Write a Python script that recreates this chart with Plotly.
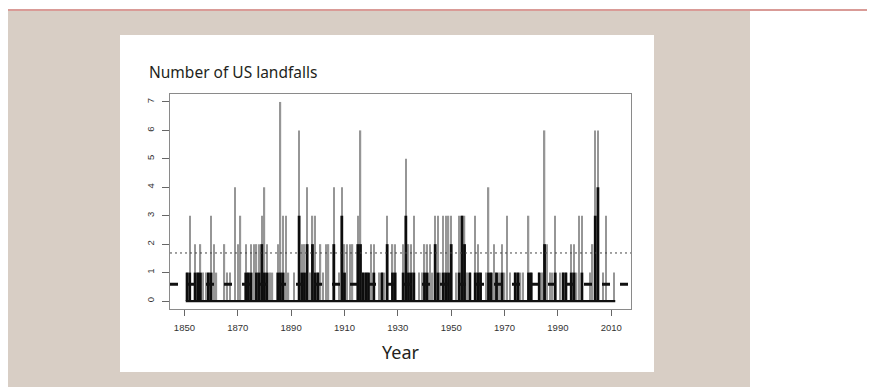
import plotly.graph_objects as go

# ---------------- data ----------------
years = list(range(1851, 2012))

all_hurricanes = [
    1, 3, 0, 2, 1, 2, 1, 1, 1, 3,      # 1851-1860
    2, 1, 0, 0, 2, 1, 1, 0, 4, 2,      # 1861-1870
    3, 0, 2, 1, 2, 2, 2, 2, 3, 4,      # 1871-1880
    2, 1, 1, 0, 2, 7, 3, 3, 1, 0,      # 1881-1890
    1, 0, 6, 2, 2, 4, 1, 3, 3, 1,      # 1891-1900
    2, 1, 2, 2, 0, 4, 0, 1, 4, 2,      # 1901-1910
    2, 2, 2, 0, 3, 6, 1, 1, 1, 2,      # 1911-1920
    2, 0, 1, 1, 1, 3, 0, 2, 2, 0,      # 1921-1930
    0, 2, 5, 2, 2, 3, 0, 1, 1, 2,      # 1931-1940
    2, 2, 1, 3, 3, 1, 3, 3, 3, 3,      # 1941-1950
    0, 1, 3, 3, 3, 1, 1, 0, 3, 2,      # 1951-1960
    1, 0, 1, 4, 1, 2, 1, 1, 2, 1,      # 1961-1970
    3, 1, 0, 1, 1, 1, 1, 0, 3, 1,      # 1971-1980
    0, 0, 1, 1, 6, 2, 1, 1, 3, 0,      # 1981-1990
    1, 1, 1, 0, 2, 2, 1, 3, 3, 0,      # 1991-2000
    0, 1, 2, 6, 6, 0, 1, 3, 0, 0, 1,   # 2001-2011
]

major_hurricanes = [
    1, 1, 0, 1, 1, 1, 0, 0, 1, 1,      # 1851-1860
    0, 0, 0, 0, 0, 0, 0, 0, 0, 0,      # 1861-1870
    0, 0, 1, 1, 1, 0, 1, 1, 2, 1,      # 1871-1880
    1, 0, 0, 0, 1, 1, 1, 0, 0, 0,      # 1881-1890
    0, 0, 3, 1, 1, 2, 0, 2, 1, 1,      # 1891-1900
    0, 0, 0, 0, 0, 2, 0, 0, 3, 1,      # 1901-1910
    0, 0, 0, 0, 2, 2, 1, 1, 1, 0,      # 1911-1920
    1, 0, 0, 1, 0, 2, 0, 1, 1, 0,      # 1921-1930
    0, 1, 3, 1, 1, 1, 0, 0, 0, 1,      # 1931-1940
    1, 0, 0, 2, 1, 0, 1, 1, 1, 2,      # 1941-1950
    0, 0, 1, 3, 2, 0, 1, 0, 1, 1,      # 1951-1960
    1, 0, 0, 1, 1, 0, 1, 0, 1, 0,      # 1961-1970
    0, 0, 0, 1, 1, 0, 0, 0, 1, 1,      # 1971-1980
    0, 0, 1, 0, 2, 0, 0, 0, 1, 0,      # 1981-1990
    0, 1, 1, 0, 1, 1, 0, 0, 1, 0,      # 1991-2000
    0, 0, 0, 3, 4, 0, 0, 0, 0, 0, 0,   # 2001-2011
]

mean_all = 1.69      # dotted reference line
mean_major = 0.59    # dashed reference line

x_ticks = [1850, 1870, 1890, 1910, 1930, 1950, 1970, 1990, 2010]
y_ticks = [0, 1, 2, 3, 4, 5, 6, 7]
x_range = [1844.6, 2017.4]
y_range = [-0.28, 7.28]

title_text = "Number of US landfalls"
x_label = "Year"

# ---------------- layout geometry (pixels) ----------------
W, H = 869, 387
L, R, T, B = 170, 631, 94, 309


def px(x):
    return (x - L) / (R - L)


def py(y):
    return (B - y) / (B - T)


fig = go.Figure()

fig.add_trace(go.Bar(
    x=years, y=all_hurricanes, width=0.55,
    marker=dict(color="#969696", line=dict(width=0)),
    hoverinfo="skip", showlegend=False,
))
fig.add_trace(go.Bar(
    x=years, y=major_hurricanes, width=1.05,
    marker=dict(color="#0d0d0d", line=dict(width=0)),
    hoverinfo="skip", showlegend=False,
))
fig.add_trace(go.Scatter(
    x=[years[0] - 0.5, years[-1] + 0.5], y=[0, 0], mode="lines",
    line=dict(color="#111111", width=2.2),
    hoverinfo="skip", showlegend=False,
))

shapes = [
    # beige panel
    dict(type="rect", xref="paper", yref="paper", layer="below",
         x0=px(8), x1=px(750), y0=py(392), y1=py(11),
         fillcolor="#d8cec5", line=dict(width=0)),
    # white card
    dict(type="rect", xref="paper", yref="paper", layer="below",
         x0=px(120), x1=px(654), y0=py(372), y1=py(35),
         fillcolor="#ffffff", line=dict(width=0)),
    # red rule at the top
    dict(type="line", xref="paper", yref="paper", layer="below",
         x0=px(8), x1=px(867), y0=py(10), y1=py(10),
         line=dict(color="#cc7a74", width=1.6)),
    # mean lines
    dict(type="line", xref="paper", yref="y", layer="above",
         x0=0, x1=1, y0=mean_major, y1=mean_major,
         line=dict(color="#111111", width=3, dash="8px,10px")),
    dict(type="line", xref="paper", yref="y", layer="above",
         x0=0, x1=1, y0=mean_all, y1=mean_all,
         line=dict(color="#444444", width=1, dash="2px,3px")),
]

annotations = [
    dict(text=title_text, xref="paper", yref="paper",
         x=px(147), y=py(72), xanchor="left", yanchor="middle",
         showarrow=False,
         font=dict(family="Noto Sans", size=15.5, color="#231f20")),
    dict(text=x_label, xref="paper", yref="paper",
         x=px(401), y=py(352), xanchor="center", yanchor="middle",
         showarrow=False,
         font=dict(family="Noto Sans", size=18, color="#231f20")),
]

axis_common = dict(
    showgrid=False, zeroline=False,
    showline=True, mirror=True, linecolor="#8a8a8a", linewidth=1,
    ticks="outside", tickcolor="#666666", tickwidth=1,
    tickfont=dict(family="Liberation Sans", size=9.5, color="#333333"),
    fixedrange=True,
)

fig.update_layout(
    width=W, height=H,
    margin=dict(l=L, r=W - R, t=T, b=H - B, pad=0),
    paper_bgcolor="#ffffff", plot_bgcolor="#ffffff",
    barmode="overlay",
    showlegend=False,
    shapes=shapes,
    annotations=annotations,
    xaxis=dict(range=x_range, tickmode="array", tickvals=x_ticks,
               ticktext=[str(v) for v in x_ticks], ticklen=6,
               ticklabelstandoff=4, **axis_common),
    yaxis=dict(range=y_range, tickmode="array", tickvals=y_ticks,
               ticktext=[str(v) for v in y_ticks], ticklen=7,
               tickangle=-90, ticklabelstandoff=4, **axis_common),
)

fig.write_html("out.html")
